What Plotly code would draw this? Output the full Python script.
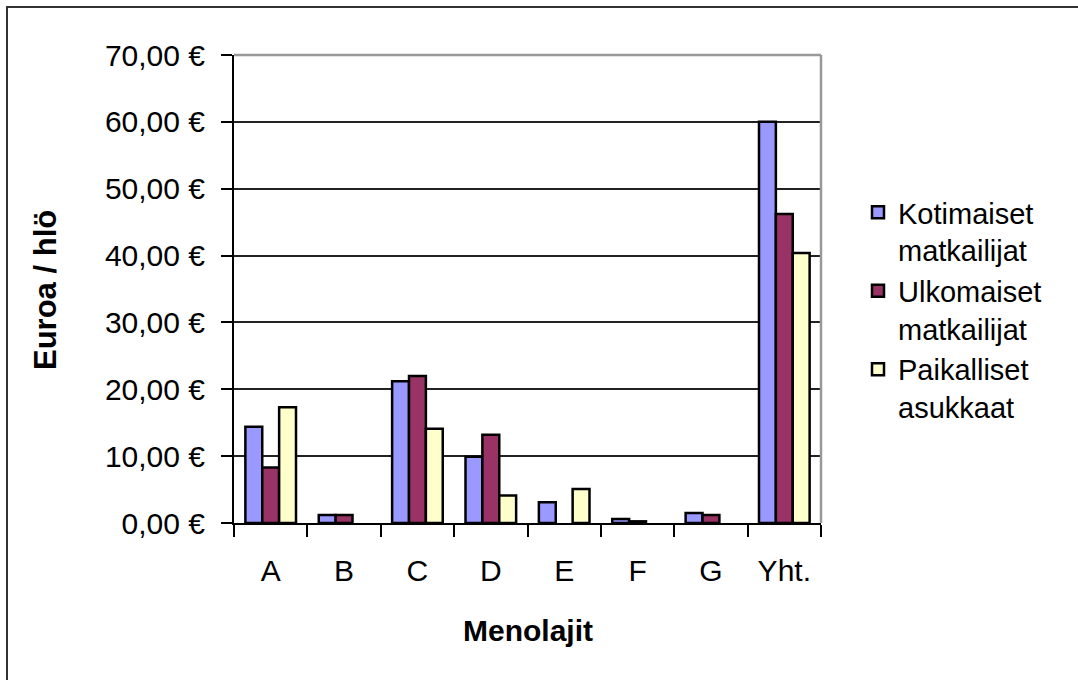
import plotly.graph_objects as go

categories = ["A", "B", "C", "D", "E", "F", "G", "Yht."]
kotimaiset = [14.4, 1.2, 21.2, 9.9, 3.1, 0.6, 1.5, 60.0]
ulkomaiset = [8.3, 1.2, 22.0, 13.2, 0.0, 0.25, 1.2, 46.2]
paikalliset = [17.3, 0.0, 14.1, 4.1, 5.1, 0.0, 0.0, 40.4]
series_names = ["Kotimaiset<br>matkailijat", "Ulkomaiset<br>matkailijat", "Paikalliset<br>asukkaat"]
series_colors = ["#9999FF", "#993366", "#FFFFCC"]
tick_vals = [0, 10, 20, 30, 40, 50, 60, 70]
tick_text = ["0,00 €", "10,00 €", "20,00 €", "30,00 €", "40,00 €", "50,00 €", "60,00 €", "70,00 €"]

FONT = "Liberation Sans, Arial, sans-serif"
FS = 30

fig = go.Figure()
for i, (name, vals, col) in enumerate(zip(series_names, [kotimaiset, ulkomaiset, paikalliset], series_colors)):
    fig.add_trace(go.Bar(
        x=categories, y=vals, name=name, legendgroup=f"g{i}",
        marker=dict(color=col,
                    line=dict(color="black", width=[2.5 if v > 0 else 0 for v in vals])),
    ))

# plot area pixels: x 234..821, y 55..523
L, R, T, B = 234, 821, 55, 523
W, H = 1078, 680
pw, ph = R - L, B - T

def px_x(p):
    return (p - L) / pw

def px_y(p):
    return (B - p) / ph

fig.update_layout(
    width=W, height=H,
    margin=dict(l=L, r=W - R, t=T, b=H - B, pad=0),
    paper_bgcolor="white", plot_bgcolor="white",
    barmode="group", bargap=0.31, bargroupgap=0,
    font=dict(family=FONT, size=FS, color="black"),
    showlegend=True,
    legend=dict(
        x=px_x(858), y=px_y(187), xanchor="left", yanchor="top",
        font=dict(family=FONT, size=29, color="black"),
        traceorder="grouped", tracegroupgap=0, valign="top",
        bgcolor="rgba(0,0,0,0)",
    ),
    xaxis=dict(
        type="category", showline=True, linecolor="black", linewidth=2,
        ticks="outside", tickson="boundaries", ticklen=12, tickcolor="black", tickwidth=1.5,
        ticklabelstandoff=20, tickfont=dict(size=FS), showgrid=False, zeroline=False,
        range=[-0.5, 7.5],
    ),
    yaxis=dict(
        range=[0, 70], tickvals=tick_vals, ticktext=tick_text,
        showline=True, linecolor="black", linewidth=2,
        ticks="outside", ticklen=11, tickcolor="black", tickwidth=1.5,
        ticklabelstandoff=10, showgrid=True, gridcolor="#222222", gridwidth=1.5,
        zeroline=False, tickfont=dict(size=FS),
    ),
    shapes=[
        # plot area border (top and right, gray)
        dict(type="line", xref="paper", yref="paper", x0=0, x1=1, y0=1, y1=1,
             line=dict(color="#999999", width=2.5), layer="above"),
        dict(type="line", xref="paper", yref="paper", x0=1, x1=1, y0=0, y1=1,
             line=dict(color="#999999", width=2.5), layer="above"),
        # outer chart frame
        dict(type="rect", xref="paper", yref="paper",
             x0=px_x(7), x1=px_x(1100), y0=px_y(7), y1=px_y(720),
             line=dict(color="#333333", width=2), layer="above"),
    ],
    annotations=[
        dict(text="<b>Menolajit</b>", xref="paper", yref="paper",
             x=px_x(528), y=px_y(630), xanchor="center", yanchor="middle",
             showarrow=False, font=dict(family=FONT, size=FS, color="black")),
        dict(text="<b>Euroa / hlö</b>", xref="paper", yref="paper",
             x=px_x(45), y=px_y(290), xanchor="center", yanchor="middle",
             showarrow=False, textangle=-90,
             font=dict(family=FONT, size=31, color="black")),
    ],
)

fig.write_html("out.html", config={"displayModeBar": False},
               post_script="document.body.style.margin='0';")
